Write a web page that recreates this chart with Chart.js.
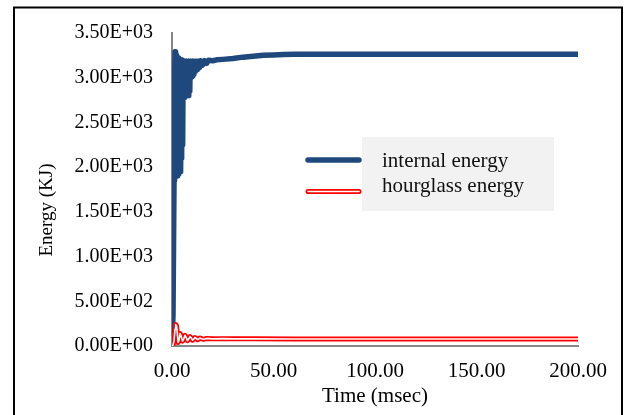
<!DOCTYPE html>
<html>
<head>
<meta charset="utf-8">
<script src="https://cdn.jsdelivr.net/npm/chart.js@4"></script>
<style>
  html, body { margin: 0; padding: 0; background: #ffffff; }
  #wrap { width: 624px; height: 415px; }
</style>
</head>
<body>
<div id="wrap"><canvas id="energy"></canvas></div>
<script>
// Internal energy history (time in msec, energy in KJ)
const internalTime = [0, 0.5, 1.0, 1.25, 1.5, 1.75, 2.0, 2.25, 2.5, 2.75, 3.0, 3.25, 3.5, 3.75, 4.0, 4.25,
  4.5, 4.75, 5.0, 5.25, 5.5, 5.75, 6.0, 6.25, 6.5, 6.75, 7.0, 7.25, 7.5, 7.75, 8.0, 8.25, 8.5, 8.75,
  9.0, 9.25, 9.5, 9.75, 10.0, 10.25, 10.5, 10.75, 11.0, 11.5, 12.0, 12.5, 13.0, 13.5, 14.0, 15.0,
  16.0, 17.0, 18.0, 20, 22, 25, 30, 35, 40, 45, 50, 55, 60, 80, 100, 150, 200];
const internalEnergy = [0, 350, 1850, 2950, 3290, 2100, 3250, 1950, 3230, 1900, 3220, 1920, 3210, 2000, 3200, 1950,
  3200, 2100, 3190, 2250, 3190, 2800, 3185, 2780, 3180, 2820, 3185, 2800, 3180, 2830, 3185, 2800, 3180, 2850,
  3185, 3000, 3180, 3010, 3185, 3020, 3180, 3040, 3185, 3070, 3185, 3090, 3185, 3110, 3190, 3140,
  3190, 3160, 3195, 3190, 3200, 3205, 3215, 3230, 3240, 3250, 3255, 3260, 3262, 3262, 3262, 3262, 3262];

// Hourglass energy history
const hourglassTime = [0, 0.5, 1.0, 1.5, 1.8, 2.2, 2.6, 3.0, 3.5, 4.0, 4.5, 5.2, 5.8, 6.4, 7.0, 7.6, 8.3, 8.9,
  9.5, 10.1, 10.7, 11.3, 12.0, 12.6, 13.2, 13.8, 14.5, 15.5, 17, 20, 25, 30, 40, 60, 100, 150, 200];
const hourglassEnergy = [0, 10, 60, 190, 240, 230, 150, 40, 70, 140, 110, 55, 80, 120, 95, 60, 80, 105,
  90, 65, 75, 95, 85, 70, 78, 90, 82, 75, 85, 80, 82, 80, 80, 79, 78, 78, 78];

const seriesNames = ['internal energy', 'hourglass energy'];
const xTickLabels = ['0.00', '50.00', '100.00', '150.00', '200.00'];
const yTickLabels = ['0.00E+00', '5.00E+02', '1.00E+03', '1.50E+03', '2.00E+03', '2.50E+03', '3.00E+03', '3.50E+03'];
const xTitle = 'Time (msec)';
const yTitle = 'Energy (KJ)';

const BLUE = '#1f497d';
const RED = '#ff0000';
const AXIS = '#868686';
const SERIF = '"Liberation Serif", "Times New Roman", serif';

const toPoints = (xs, ys) => xs.map((x, i) => ({ x: x, y: ys[i] }));

// Page frame, axis titles and the boxed legend
const decorations = {
  id: 'decorations',
  beforeDraw(chart) {
    const ctx = chart.ctx;
    ctx.save();
    ctx.fillStyle = '#ffffff';
    ctx.fillRect(0, 0, chart.width, chart.height);
    ctx.restore();
  },
  afterDraw(chart) {
    const ctx = chart.ctx;
    const area = chart.chartArea;
    ctx.save();
    // outer frame
    ctx.strokeStyle = '#000000';
    ctx.lineWidth = 2;
    ctx.strokeRect(14, 7.5, 608, 450);

    // axis titles
    ctx.fillStyle = '#000000';
    ctx.textAlign = 'center';
    ctx.textBaseline = 'middle';
    ctx.font = '21px ' + SERIF;
    ctx.fillText(xTitle, (area.left + area.right) / 2, 396);
    ctx.save();
    ctx.translate(47, 210);
    ctx.rotate(-Math.PI / 2);
    ctx.font = '19px ' + SERIF;
    ctx.fillText(yTitle, 0, 0);
    ctx.restore();

    // legend
    ctx.fillStyle = '#f2f2f2';
    ctx.fillRect(362, 137, 192, 74);
    ctx.lineCap = 'round';
    ctx.strokeStyle = BLUE;
    ctx.lineWidth = 5.5;
    ctx.beginPath(); ctx.moveTo(308, 160); ctx.lineTo(359, 160); ctx.stroke();
    ctx.strokeStyle = RED;
    ctx.lineWidth = 5;
    ctx.beginPath(); ctx.moveTo(308, 191.5); ctx.lineTo(359, 191.5); ctx.stroke();
    ctx.strokeStyle = '#ffffff';
    ctx.lineWidth = 1.6;
    ctx.beginPath(); ctx.moveTo(308, 191.5); ctx.lineTo(359, 191.5); ctx.stroke();

    ctx.fillStyle = '#111111';
    ctx.textAlign = 'left';
    ctx.font = '21px ' + SERIF;
    ctx.fillText(chart.data.datasets[0].label, 382, 161);
    ctx.fillText(chart.data.datasets[1].label, 382, 186);
    ctx.restore();
  }
};

new Chart(document.getElementById('energy'), {
  type: 'line',
  data: {
    datasets: [
      {
        label: seriesNames[0],
        data: toPoints(internalTime, internalEnergy),
        borderColor: BLUE,
        borderWidth: 5.5,
        borderCapStyle: 'round',
        borderJoinStyle: 'round',
        pointRadius: 0,
        tension: 0,
        order: 3
      },
      {
        label: seriesNames[1],
        data: toPoints(hourglassTime, hourglassEnergy),
        borderColor: RED,
        borderWidth: 5,
        borderCapStyle: 'round',
        borderJoinStyle: 'round',
        pointRadius: 0,
        tension: 0,
        order: 2
      },
      {
        // white core that makes the hourglass line look hollow
        label: seriesNames[1] + ' core',
        data: toPoints(hourglassTime, hourglassEnergy),
        borderColor: '#ffffff',
        borderWidth: 1.6,
        borderCapStyle: 'round',
        borderJoinStyle: 'round',
        pointRadius: 0,
        tension: 0,
        order: 1
      }
    ]
  },
  options: {
    responsive: true,
    maintainAspectRatio: false,
    animation: false,
    events: [],
    layout: { padding: { left: 0, right: 46, top: 33, bottom: 0 } },
    plugins: {
      legend: { display: false },
      tooltip: { enabled: false }
    },
    scales: {
      x: {
        type: 'linear',
        min: 0,
        max: 200,
        afterFit(scale) { scale.height = 69; },
        grid: { display: false, drawTicks: false },
        border: { display: true, color: AXIS, width: 2 },
        ticks: {
          stepSize: 50,
          padding: 13,
          color: '#000000',
          font: { family: SERIF, size: 21 },
          maxRotation: 0,
          callback: (v) => xTickLabels[Math.round(v / 50)]
        }
      },
      y: {
        type: 'linear',
        min: 0,
        max: 3500,
        afterFit(scale) { scale.width = 172; },
        grid: { display: false, drawTicks: false },
        border: { display: true, color: AXIS, width: 2 },
        ticks: {
          stepSize: 500,
          padding: 19,
          color: '#000000',
          font: { family: SERIF, size: 20 },
          callback: (v) => yTickLabels[Math.round(v / 500)]
        }
      }
    }
  },
  plugins: [decorations]
});
</script>
</body>
</html>
